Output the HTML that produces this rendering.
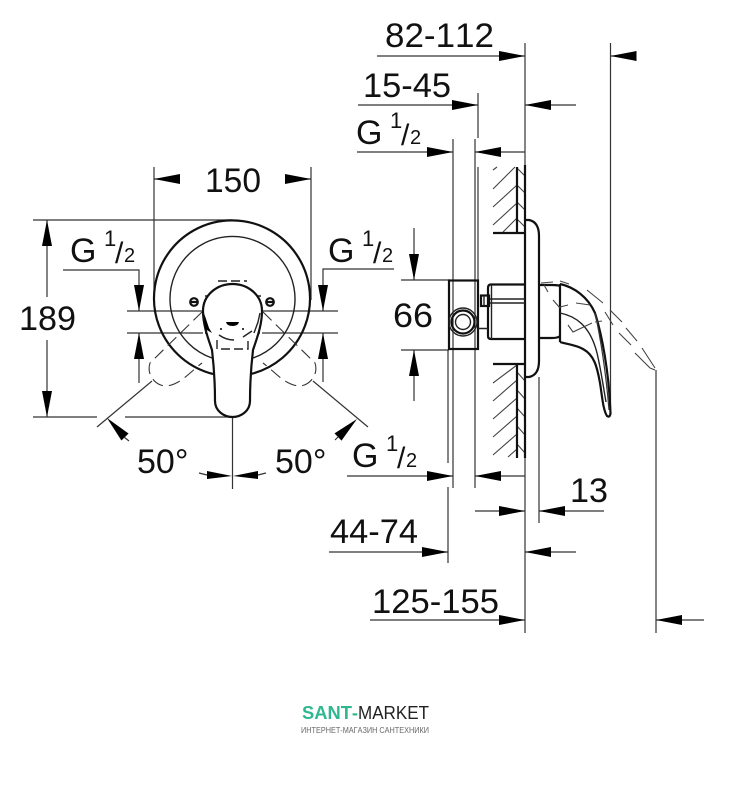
<!DOCTYPE html>
<html><head><meta charset="utf-8"><style>
html,body{margin:0;padding:0;background:#fff;width:730px;height:800px;overflow:hidden}
svg{display:block}
text{font-family:"Liberation Sans",sans-serif;fill:#111;font-kerning:none}
.t{font-size:34px}
.s{font-size:22px}.f{font-size:30px}.d{font-size:20px}
.l{stroke:#333;stroke-width:1.2;fill:none}
.k{stroke:#111;stroke-width:2.2;fill:none}
.m{stroke:#222;stroke-width:1.4;fill:none}
.h{stroke:#444;stroke-width:1.1;fill:none}
.a{fill:#000;stroke:none}
.q{stroke:#333;stroke-width:1.1;fill:none;stroke-dasharray:12 6}
</style></head><body>
<svg width="730" height="800" viewBox="0 0 730 800" xmlns="http://www.w3.org/2000/svg">
<defs>
<path id="ar" class="a" d="M0 0L-26 -5V5Z"/>
</defs>

<!-- dimension lines right view -->
<path class="l" d="M377 56H525M525 43V633M610.5 43V415M610.5 56H636
M358 105H478M478 93V138M525 105H576
M357 152H453M453 139V488M475 139V488M475 152H525M478 167V280
M347 476H453M475 476H525
M475 511H525M539 377V523M539 511H604
M329 552H448M448 487V563M448 350V463M525 552H576
M370 620H525M656 370V633M656 620H704
M401 280H450M401 350H449M414 228V280M414 350V401"/>
<use href="#ar" x="525" y="56"/>
<use href="#ar" transform="translate(610.5 56) rotate(180)"/>
<use href="#ar" x="478" y="105"/>
<use href="#ar" transform="translate(525 105) rotate(180)"/>
<use href="#ar" x="453" y="152"/>
<use href="#ar" transform="translate(475 152) rotate(180)"/>
<use href="#ar" x="453" y="476"/>
<use href="#ar" transform="translate(475 476) rotate(180)"/>
<use href="#ar" x="525" y="511"/>
<use href="#ar" transform="translate(539 511) rotate(180)"/>
<use href="#ar" x="448" y="552"/>
<use href="#ar" transform="translate(525 552) rotate(180)"/>
<use href="#ar" x="525" y="620"/>
<use href="#ar" transform="translate(656 620) rotate(180)"/>
<use href="#ar" transform="translate(414 280) rotate(90)"/>
<use href="#ar" transform="translate(414 350) rotate(-90)"/>

<!-- wall -->
<path class="h" d="M493 170L497 167M493 189L515 167M493 207L517 185M493 225L517 203M503 232L517 218
M517 168L525 176M517 185L525 193M517 202L525 210M517 219L525 227
M493 383L517 365M493 401L517 380M493 419L517 398M493 437L517 416M493 455L517 434M508 457L517 449
M517 372L525 381M517 390L525 399M517 408L525 417M517 426L525 435M517 444L525 453"/>
<path class="k" d="M517 167V233M493 233H525M493 364H525M517 364V458M525 165V458"/>
<!-- rosette -->
<path class="k" d="M525 220H529Q539 222 539 236V361Q539 375 529 377H525"/>
<!-- mounting block -->
<rect class="k" x="449" y="280.5" width="29" height="68.5" fill="#fff"/>
<circle class="m" cx="463" cy="322" r="14"/>
<circle class="k" cx="463" cy="322" r="11.5"/>
<circle class="m" cx="463" cy="322" r="7.5"/>
<!-- body -->
<path class="k" d="M525 284.5H491Q488 284.5 488 288V336Q488 339 491 339H525"/>
<path class="m" d="M491.5 285V339M490 299H525M490 303H525M478 328.5H488"/>
<rect class="k" x="481" y="295.5" width="8" height="10.5" stroke-width="1.8"/>
<path class="m" d="M484 296V306"/>
<!-- handle side -->
<path class="k" d="M539 338H552Q558 338 560 336M539 285H552Q558 285 560 286M560 284V342"/>
<path class="k" d="M560 284C574 287 588 297 595 313C602 335 609 372 610.5 413Q610 418 607 416C603 410 602 395 600 383C597 366 594 355 583 349C576 345 566 344 560 342"/>
<path class="m" stroke-width="1.2" d="M560 313C575 316 590 325 597 353C601 370 603 385 606 402"/>
<path class="l" stroke-width="1" d="M595 313C600 335 606 372 609 410"/>
<!-- ghost handle swing -->
<path class="h" d="M541 283L553 282M560 281L569 284M587 290L603 303M544 285L548 292M553 300L560 308M560 307L568 305M576 303L590 305M568 325L573 332L592 323M595 322L602 321
M605 312L613 325M610 310L622 322M619 333L631 345M626 328L637 341M635 353L650 368M642 348L655 368M650 368L655 370"/>

<!-- front view dims -->
<path class="l" d="M154 167V300M311 167V300M154 179H180M285 179H311
M33 220H232M47 220V297M47 340V417M33 417H97M125 417H233
M63 270H139V311M139 333V383M127 311H203M262 311H338M127 333H203M262 333H338
M394 269H323V311M323 333V382
M97 427L152 381M368 427L313 381M232.5 417V489
M199 473L207 475M258 475L266 473"/>
<use href="#ar" transform="translate(154 179) rotate(180)"/>
<use href="#ar" x="311" y="179"/>
<use href="#ar" transform="translate(47 220) rotate(-90)"/>
<use href="#ar" transform="translate(47 417) rotate(90)"/>
<use href="#ar" transform="translate(139 311) rotate(90)"/>
<use href="#ar" transform="translate(139 333) rotate(-90)"/>
<use href="#ar" transform="translate(323 311) rotate(90)"/>
<use href="#ar" transform="translate(323 333) rotate(-90)"/>
<path class="a" d="M107 418L128.6 433.5L121.4 440.5Z"/>
<path class="l" d="M124 437L129 441"/>
<path class="a" d="M357 419L341.500 440.600L334.500 433.400Z"/>
<path class="l" d="M338 437L335 440"/>
<path class="a" d="M232 476L207 471V479ZM233 476L258 471V479Z"/>

<!-- rosette front -->
<path class="k" d="M213 374A78 78 0 1 1 251 374"/>
<path class="m" d="M212 358A62.5 62.5 0 1 1 253 358"/>
<!-- dashed ghost levers -->
<path class="q" d="M202 312L150 363C146 375 156 386 166 386C180 385 190 372 202 363"/>
<path class="q" d="M263 312L315 363C319 375 309 386 299 386C285 385 275 372 263 363"/>
<!-- screws -->
<circle class="k" cx="194" cy="302" r="3.8" stroke-width="1.6"/><path class="k" d="M191 302H197" stroke-width="1.2"/>
<circle class="k" cx="270" cy="302" r="3.8" stroke-width="1.6"/><path class="k" d="M267 302H273" stroke-width="1.2"/>
<path class="m" d="M205 296H209M256 296H261M205 333H209V338M260 333H256V338"/>
<!-- lever -->
<path fill="#fff" stroke="#111" stroke-width="2.2" d="M212 350C208 338 203 325 203 311C203 295 217 284 232.5 284C248 284 262 295 262 311C262 325 257 338 253 350C251 367 250 385 250 401C250 411 241 417 232.5 417C224 417 215 411 215 401C215 385 214 367 212 350Z"/>
<path class="a" d="M226 322H239Q238 326 232.5 326Q227 326 226 322Z"/>
<path class="a" d="M204 313L209 328L212 333L205 329Z"/>
<path class="m" d="M219 335Q226 340 234 340M243 337L252 331"/>
<circle class="a" cx="221" cy="329" r="1"/><circle class="a" cx="243" cy="329" r="1"/>
<path class="m" d="M260 313L258 322L254 333"/>
<!-- dashed internal over lever -->
<path stroke="#222" stroke-width="1.4" fill="none" stroke-dasharray="9 4" d="M218 281H247M217 340V349H248V340"/>

<!-- dimension text -->
<text class="t" x="385" y="47" textLength="109" lengthAdjust="spacingAndGlyphs">82-112</text>
<text class="t" x="363" y="97" textLength="88" lengthAdjust="spacingAndGlyphs">15-45</text>
<text class="t" x="205" y="192" textLength="56" lengthAdjust="spacingAndGlyphs">150</text>
<text class="t" x="19" y="330" textLength="57" lengthAdjust="spacingAndGlyphs">189</text>
<text class="t" x="393" y="327" textLength="40" lengthAdjust="spacingAndGlyphs">66</text>
<text class="t" x="137" y="473">50°</text>
<text class="t" x="275" y="473">50°</text>
<text class="t" x="570" y="502" textLength="38" lengthAdjust="spacingAndGlyphs">13</text>
<text class="t" x="330" y="543" textLength="88" lengthAdjust="spacingAndGlyphs">44-74</text>
<text class="t" x="372" y="613" textLength="127" lengthAdjust="spacingAndGlyphs">125-155</text>

<g transform="translate(356 144)"><text class="t">G</text><text class="s" x="34" y="-16">1</text><text class="f" x="45" y="1">/</text><text class="d" x="54">2</text></g>
<g transform="translate(70 262)"><text class="t">G</text><text class="s" x="34" y="-16">1</text><text class="f" x="45" y="1">/</text><text class="d" x="54">2</text></g>
<g transform="translate(328 262)"><text class="t">G</text><text class="s" x="34" y="-16">1</text><text class="f" x="45" y="1">/</text><text class="d" x="54">2</text></g>
<g transform="translate(352 467)"><text class="t">G</text><text class="s" x="34" y="-16">1</text><text class="f" x="45" y="1">/</text><text class="d" x="54">2</text></g>

<!-- watermark -->
<text x="302" y="719" font-size="18" font-weight="700" style="fill:#2fb890" textLength="56" lengthAdjust="spacingAndGlyphs">SANT-</text>
<text x="358" y="719" font-size="18" style="fill:#222" textLength="71" lengthAdjust="spacingAndGlyphs">MARKET</text>
<text x="301" y="733" font-size="8.5" style="fill:#666" textLength="128" lengthAdjust="spacingAndGlyphs">ИНТЕРНЕТ-МАГАЗИН САНТЕХНИКИ</text>
</svg>
</body></html>
